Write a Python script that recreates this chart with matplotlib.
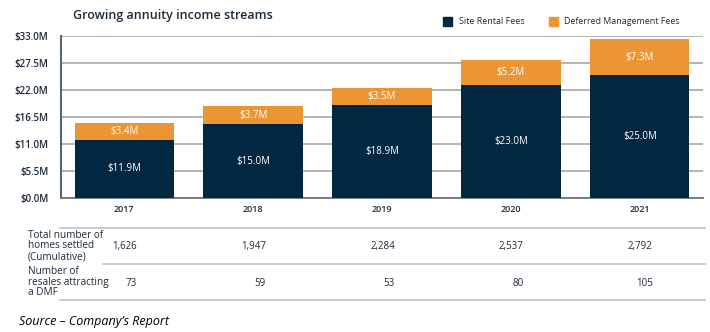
import matplotlib.pyplot as plt
from matplotlib.lines import Line2D
from matplotlib.transforms import blended_transform_factory

plt.rcParams['font.family'] = ['Open Sans', 'DejaVu Sans']

years = ['2017', '2018', '2019', '2020', '2021']
site_rental = [11.9, 15.0, 18.9, 23.0, 25.0]
deferred_mgmt = [3.4, 3.7, 3.5, 5.2, 7.3]
homes_settled = ['1,626', '1,947', '2,284', '2,537', '2,792']
resales_dmf = ['73', '59', '53', '80', '105']
yticks = [0, 5.5, 11, 16.5, 22, 27.5, 33]

navy = '#022841'
orange = '#EC9535'
text_col = '#1E2B3A'

W, H = 710, 332
fig = plt.figure(figsize=(7.1, 3.32), dpi=100)
ax = fig.add_axes([61 / W, 1 - 198 / H, 642 / W, 162 / H])

x = range(len(years))
ax.bar(x, site_rental, width=0.77, color=navy, zorder=3)
ax.bar(x, deferred_mgmt, width=0.77, bottom=site_rental, color=orange, zorder=3)

for i in x:
    ax.text(i, site_rental[i] / 2, f'${site_rental[i]:.1f}M', color='white',
            ha='center', va='center', fontsize=7, zorder=4)
    ax.text(i, site_rental[i] + deferred_mgmt[i] / 2, f'${deferred_mgmt[i]:.1f}M',
            color='white', ha='center', va='center', fontsize=7, zorder=4)

ax.set_xlim(-0.49, 4.49)
ax.set_ylim(0, 33)
ax.set_yticks(yticks)
ax.set_yticklabels([f'${v:.1f}M' for v in yticks], fontsize=7, color=text_col,
                   fontweight='semibold')
ax.set_xticks(list(x))
ax.set_xticklabels(years, fontsize=6.5, color=text_col, fontweight='semibold')
ax.tick_params(length=0, pad=5)
ax.tick_params(axis='y', pad=9)
ax.grid(axis='y', color='#AFAFAF', linewidth=1.3, zorder=0)
for s in ['top', 'right']:
    ax.spines[s].set_visible(False)
ax.spines['left'].set_color('#4F6170')
ax.spines['left'].set_linewidth(1.4)
ax.spines['bottom'].set_color('#6A7886')
ax.spines['bottom'].set_linewidth(1.3)

fig.text(73 / W, 1 - 15 / H, 'Growing annuity income streams', fontsize=9,
         fontweight='semibold', color=text_col, va='center')

# legend
fig.patches.append(plt.Rectangle((443 / W, 1 - 26 / H), 9 / W, 9 / H, color=navy,
                                 transform=fig.transFigure))
fig.text(459 / W, 1 - 21 / H, 'Site Rental Fees', fontsize=6.5, color=text_col, va='center')
fig.patches.append(plt.Rectangle((549 / W, 1 - 26 / H), 9 / W, 9 / H, color=orange,
                                 transform=fig.transFigure))
fig.text(564 / W, 1 - 21 / H, 'Deferred Management Fees', fontsize=6.4, color=text_col,
         va='center')

# table below chart
fig.add_artist(Line2D([60 / W, 705 / W], [1 - 228 / H] * 2, color='#C8C8C8', linewidth=1.3))
fig.add_artist(Line2D([103 / W, 705 / W], [1 - 264 / H] * 2, color='#C8C8C8', linewidth=1.3))
fig.add_artist(Line2D([60 / W, 705 / W], [1 - 300 / H] * 2, color='#C8C8C8', linewidth=1.3))

fig.text(28 / W, 1 - 246 / H, 'Total number of\nhomes settled\n(Cumulative)', fontsize=7.2,
         color=text_col, va='center', linespacing=0.98)
fig.text(28 / W, 1 - 282 / H, 'Number of\nresales attracting\na DMF', fontsize=7.2,
         color=text_col, va='center', linespacing=0.98)

tr = blended_transform_factory(ax.transData, fig.transFigure)
for i in x:
    ax.text(i + 0.1, 1 - 247 / H, homes_settled[i], fontsize=7, color=text_col,
            ha='right', va='center', transform=tr, clip_on=False)
    ax.text(i + 0.1, 1 - 283 / H, resales_dmf[i], fontsize=7, color=text_col,
            ha='right', va='center', transform=tr, clip_on=False)

fig.text(19 / W, 1 - 321 / H, 'Source \u2013 Company\u2019s Report', fontsize=9,
         style='italic', color='black', va='center')

fig.savefig('out.png', dpi=100)
